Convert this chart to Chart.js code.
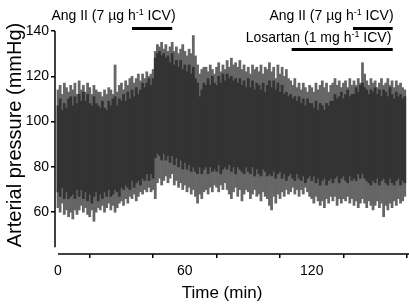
<!DOCTYPE html>
<html>
<head>
<meta charset="utf-8">
<script src="https://cdn.jsdelivr.net/npm/chart.js@4.4.1/dist/chart.umd.min.js"></script>
<style>
  body { margin: 0; background: #fff; }
  canvas { display: block; }
</style>
</head>
<body>
<canvas id="bpChart" width="409" height="304"></canvas>
<script>
// arterial pressure trace, one bin per minute (mmHg)
var spikeHigh = [
  114, 116, 112, 117, 115, 113, 116, 114, 117, 112,
  118, 114, 116, 113, 117, 115, 112, 116, 114, 113,
  113, 111, 114, 112, 115, 114, 112, 125, 113, 116,
  117, 114, 118, 116, 119, 120, 117, 119, 121, 118,
  121, 119, 122, 120, 121, 123, 131, 134, 133, 135,
  132, 134, 131, 133, 135, 131, 133, 130, 132, 134,
  131, 129, 132, 130, 138, 129, 125, 121, 123, 124,
  124, 122, 125, 123, 121, 124, 126, 122, 125, 123,
  127, 124, 128, 125, 126, 124, 127, 123, 125, 122,
  124, 121, 125, 123, 124, 122, 125, 121, 124, 123,
  126, 122, 124, 119, 125, 121, 124, 120, 123, 119,
  118, 116, 119, 115, 117, 114, 117, 115, 113, 116,
  115, 113, 117, 114, 116, 118, 115, 117, 113, 116,
  117, 119, 116, 118, 115, 117, 118, 115, 119, 116,
  118, 116, 119, 117, 126, 121, 118, 116, 119, 117,
  118, 115, 117, 119, 116, 117, 119, 116, 118, 115,
  118, 116, 117, 115, 114
];
var coreHigh = [
  107, 110, 105, 108, 106, 110, 111, 107, 111, 108,
  112, 109, 113, 109, 112, 108, 107, 111, 108, 107,
  106, 109, 106, 105, 109, 107, 110, 111, 107, 110,
  109, 112, 109, 113, 110, 114, 111, 115, 112, 114,
  117, 115, 117, 119, 116, 119, 128, 130, 131, 129,
  130, 128, 129, 126, 130, 125, 127, 124, 127, 123,
  125, 122, 125, 121, 124, 119, 117, 111, 114, 117,
  116, 119, 116, 120, 117, 116, 120, 117, 121, 118,
  121, 119, 120, 118, 119, 117, 119, 116, 118, 115,
  119, 115, 118, 114, 117, 116, 114, 117, 113, 116,
  118, 115, 118, 114, 117, 113, 116, 112, 113, 111,
  112, 110, 111, 109, 111, 108, 110, 107, 110, 108,
  108, 106, 109, 105, 108, 107, 105, 108, 107, 109,
  109, 112, 110, 111, 113, 110, 112, 114, 111, 112,
  112, 115, 113, 116, 117, 115, 114, 112, 114, 113,
  115, 112, 114, 111, 114, 113, 111, 115, 112, 110,
  113, 111, 112, 110, 111
];
var coreLow = [
  69, 67, 71, 66, 69, 66, 67, 68, 66, 70,
  67, 70, 66, 69, 65, 68, 64, 67, 69, 65,
  68, 66, 69, 67, 70, 67, 68, 70, 69, 67,
  71, 70, 72, 71, 70, 74, 71, 73, 74, 72,
  75, 74, 77, 74, 77, 75, 84, 86, 85, 83,
  86, 83, 85, 82, 85, 81, 84, 80, 83, 79,
  82, 79, 81, 78, 80, 78, 77, 80, 77, 79,
  80, 77, 80, 78, 79, 78, 81, 77, 79, 80,
  79, 81, 78, 80, 77, 80, 79, 78, 77, 80,
  78, 77, 80, 76, 79, 77, 76, 79, 78, 76,
  77, 76, 78, 75, 77, 78, 75, 77, 74, 76,
  77, 75, 74, 77, 75, 74, 76, 73, 75, 76,
  74, 76, 73, 75, 72, 74, 75, 72, 74, 75,
  73, 75, 76, 73, 75, 76, 74, 73, 76, 74,
  75, 74, 77, 75, 77, 75, 74, 73, 72, 74,
  73, 75, 72, 74, 75, 73, 72, 75, 73, 72,
  74, 75, 72, 74, 73
];
var spikeLow = [
  62, 60, 64, 59, 61, 58, 60, 57, 61, 59,
  61, 63, 60, 62, 59, 58, 61, 56, 60, 62,
  61, 63, 60, 62, 64, 61, 63, 60, 62, 64,
  65, 63, 66, 64, 67, 66, 68, 65, 67, 69,
  68, 70, 69, 71, 69, 70, 66, 73, 75, 72,
  74, 76, 73, 75, 77, 72, 74, 71, 73, 70,
  72, 69, 71, 68, 70, 67, 64, 68, 66, 69,
  70, 68, 71, 69, 72, 71, 69, 72, 70, 73,
  70, 68, 66, 69, 71, 67, 70, 65, 68, 70,
  69, 66, 68, 70, 67, 68, 65, 69, 67, 66,
  63, 61, 67, 64, 68, 66, 69, 67, 70, 68,
  69, 71, 68, 70, 67, 70, 68, 71, 69, 67,
  66, 64, 67, 65, 63, 65, 62, 66, 64, 67,
  65, 67, 63, 66, 64, 66, 65, 67, 64, 66,
  63, 65, 62, 64, 66, 64, 62, 65, 63, 61,
  63, 65, 62, 64, 58, 63, 61, 64, 62, 65,
  63, 66, 64, 65, 67
];

var xTicks = [0, 30, 60, 90, 120, 150];
var xTickLabels = { 0: "0", 60: "60", 120: "120" };
var yTicks = [60, 80, 100, 120, 140];

// infusion periods (min)
var angFirst = [35, 54];
var angSecond = [139.5, 158.3];
var losartanPeriod = [110.5, 158.3];

var coreData = coreHigh.map(function (v, i) { return { x: i, y: [coreLow[i], v] }; });
var spikeData = spikeHigh.map(function (v, i) { return { x: i, y: [spikeLow[i], v] }; });

var FONT = "'Liberation Sans', Arial, sans-serif";

function drawLabel(c, parts, cx, baseY) {
  var total = 0;
  parts.forEach(function (p) {
    c.font = (p.sup ? "9px " : "14px ") + FONT;
    p.w = c.measureText(p.t).width;
    total += p.w;
  });
  var x = cx - total / 2;
  c.textAlign = "left";
  c.textBaseline = "alphabetic";
  parts.forEach(function (p) {
    c.font = (p.sup ? "9px " : "14px ") + FONT;
    c.fillText(p.t, x, p.sup ? baseY - 5 : baseY);
    x += p.w;
  });
}

var extras = {
  id: "extras",
  afterDraw: function (chart) {
    var c = chart.ctx;
    var xs = chart.scales.x;
    var ys = chart.scales.y;
    var area = chart.chartArea;
    c.save();
    c.strokeStyle = "#000";
    c.fillStyle = "#000";
    c.lineWidth = 1.5;
    // axis lines, detached
    c.beginPath();
    c.moveTo(area.left, ys.getPixelForValue(140));
    c.lineTo(area.left, ys.getPixelForValue(44.5));
    c.stroke();
    c.beginPath();
    c.moveTo(xs.getPixelForValue(0), area.bottom);
    c.lineTo(area.right, area.bottom);
    c.stroke();

    // treatment bars
    c.lineWidth = 3;
    [[angFirst, 28.5], [angSecond, 28.5], [losartanPeriod, 49.5]].forEach(function (b) {
      c.beginPath();
      c.moveTo(xs.getPixelForValue(b[0][0]), b[1]);
      c.lineTo(xs.getPixelForValue(b[0][1]), b[1]);
      c.stroke();
    });

    drawLabel(c, [{ t: "Ang II (7 \u00b5g h" }, { t: "-1", sup: true }, { t: " ICV)" }], 113.5, 20);
    drawLabel(c, [{ t: "Ang II (7 \u00b5g h" }, { t: "-1", sup: true }, { t: " ICV)" }], 331.5, 20);
    drawLabel(c, [{ t: "Losartan (1 mg h" }, { t: "-1", sup: true }, { t: " ICV)" }], 318.5, 42);

    // axis titles
    c.font = "17px " + FONT;
    c.textAlign = "center";
    c.textBaseline = "middle";
    c.fillText("Time (min)", 222, 293);
    c.translate(15.5, 135);
    c.rotate(-Math.PI / 2);
    c.font = "20px " + FONT;
    c.fillText("Arterial pressure (mmHg)", 0, 0);
    c.restore();
  }
};

var ctx = document.getElementById("bpChart").getContext("2d");
var bpChart = new Chart(ctx, {
  type: "bar",
  data: {
    datasets: [
      {
        label: "core",
        data: coreData,
        backgroundColor: "#333333",
        barPercentage: 1,
        categoryPercentage: 1,
        grouped: false,
        order: 0,
      },
      {
        label: "spikes",
        data: spikeData,
        backgroundColor: "#666666",
        barPercentage: 1,
        categoryPercentage: 1,
        grouped: false,
        order: 1,
      },
    ],
  },
  options: {
    responsive: false,
    animation: false,
    devicePixelRatio: 1,
    layout: { padding: { top: 31, right: 0, bottom: 0, left: 0 } },
    plugins: {
      legend: { display: false },
      tooltip: { enabled: false },
    },
    scales: {
      x: {
        type: "linear",
        offset: false,
        min: -1.42,
        max: 166,
        afterBuildTicks: function (scale) {
          scale.ticks = xTicks.map(function (v) { return { value: v }; });
        },
        afterFit: function (scale) { scale.height = 50; },
        ticks: {
          autoSkip: false,
          maxRotation: 0,
          padding: 5,
          color: "#000",
          font: { family: FONT, size: 14 },
          callback: function (v) { return xTickLabels[v] || ""; },
        },
        grid: { drawOnChartArea: false, drawTicks: true, tickLength: 4, color: "#000", lineWidth: 1.5 },
        border: { display: false },
      },
      y: {
        min: 41.55,
        max: 140,
        afterBuildTicks: function (scale) {
          scale.ticks = yTicks.map(function (v) { return { value: v }; });
        },
        afterFit: function (scale) { scale.width = 55; },
        ticks: {
          padding: 2,
          color: "#000",
          font: { family: FONT, size: 14 },
        },
        grid: { drawOnChartArea: false, drawTicks: true, tickLength: 4, color: "#000", lineWidth: 1.5 },
        border: { display: false },
      },
    },
  },
  plugins: [extras],
});
</script>
</body>
</html>
